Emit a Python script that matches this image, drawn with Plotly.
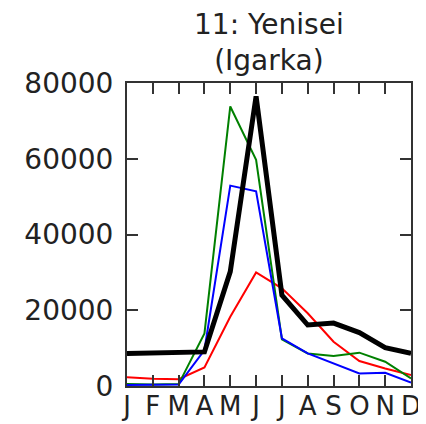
import plotly.graph_objects as go

months = ["J", "F", "M", "A", "M", "J", "J", "A", "S", "O", "N", "D"]
black_vals = [8600, 8800, 8800, 9000, 30200, 76500, 24000, 16100, 16600, 14100, 10100, 8600]
green_vals = [500, 400, 500, 13900, 73800, 59700, 12300, 8600, 7900, 8800, 6400, 2000]
blue_vals = [260, 260, 400, 9500, 52900, 51400, 12600, 8600, 6000, 3300, 3500, 900]
red_vals = [2300, 1900, 1800, 4900, 18300, 30000, 25800, 19200, 11700, 6600, 4600, 2900]
title_text = "11: Yenisei<br>(Igarka)"

x = list(range(len(months)))

fig = go.Figure()
fig.add_trace(go.Scatter(x=x, y=red_vals, mode="lines", line=dict(color="#ff0000", width=2)))
fig.add_trace(go.Scatter(x=x, y=green_vals, mode="lines", line=dict(color="#008000", width=2)))
fig.add_trace(go.Scatter(x=x, y=blue_vals, mode="lines", line=dict(color="#0000ff", width=2)))
fig.add_trace(go.Scatter(x=x, y=black_vals, mode="lines", line=dict(color="#000000", width=5)))

# page body has an 8px default margin, so the figure is 8px smaller in each direction
fig.update_layout(
    width=418, height=416,
    margin=dict(l=119, r=15, t=75, b=38, autoexpand=False),
    paper_bgcolor="white", plot_bgcolor="white",
    showlegend=False,
    font=dict(family="DejaVu Sans", size=28, color="#222222"),
)
fig.add_annotation(
    text=title_text, xref="paper", yref="paper", x=0.5, y=1,
    xanchor="center", yanchor="bottom", yshift=4, showarrow=False,
    font=dict(size=28, color="#222222"), align="center",
)
fig.update_xaxes(
    range=[0, 11], tickmode="array", tickvals=x, ticktext=months,
    ticks="inside", ticklen=11, tickwidth=1.5, tickcolor="#333333",
    showline=True, linecolor="#333333", linewidth=2, mirror="ticks",
    showgrid=False, zeroline=False, tickfont=dict(size=26), automargin=False,
    ticklabelstandoff=-4,
)
fig.update_yaxes(
    range=[0, 80000], tickmode="array", tickvals=[0, 20000, 40000, 60000, 80000],
    ticktext=["0", "20000", "40000", "60000", "80000"],
    ticks="inside", ticklen=11, tickwidth=1.5, tickcolor="#333333",
    showline=True, linecolor="#333333", linewidth=2, mirror="ticks",
    showgrid=False, zeroline=False, ticklabelstandoff=6, automargin=False,
)
fig.write_html("out.html")
